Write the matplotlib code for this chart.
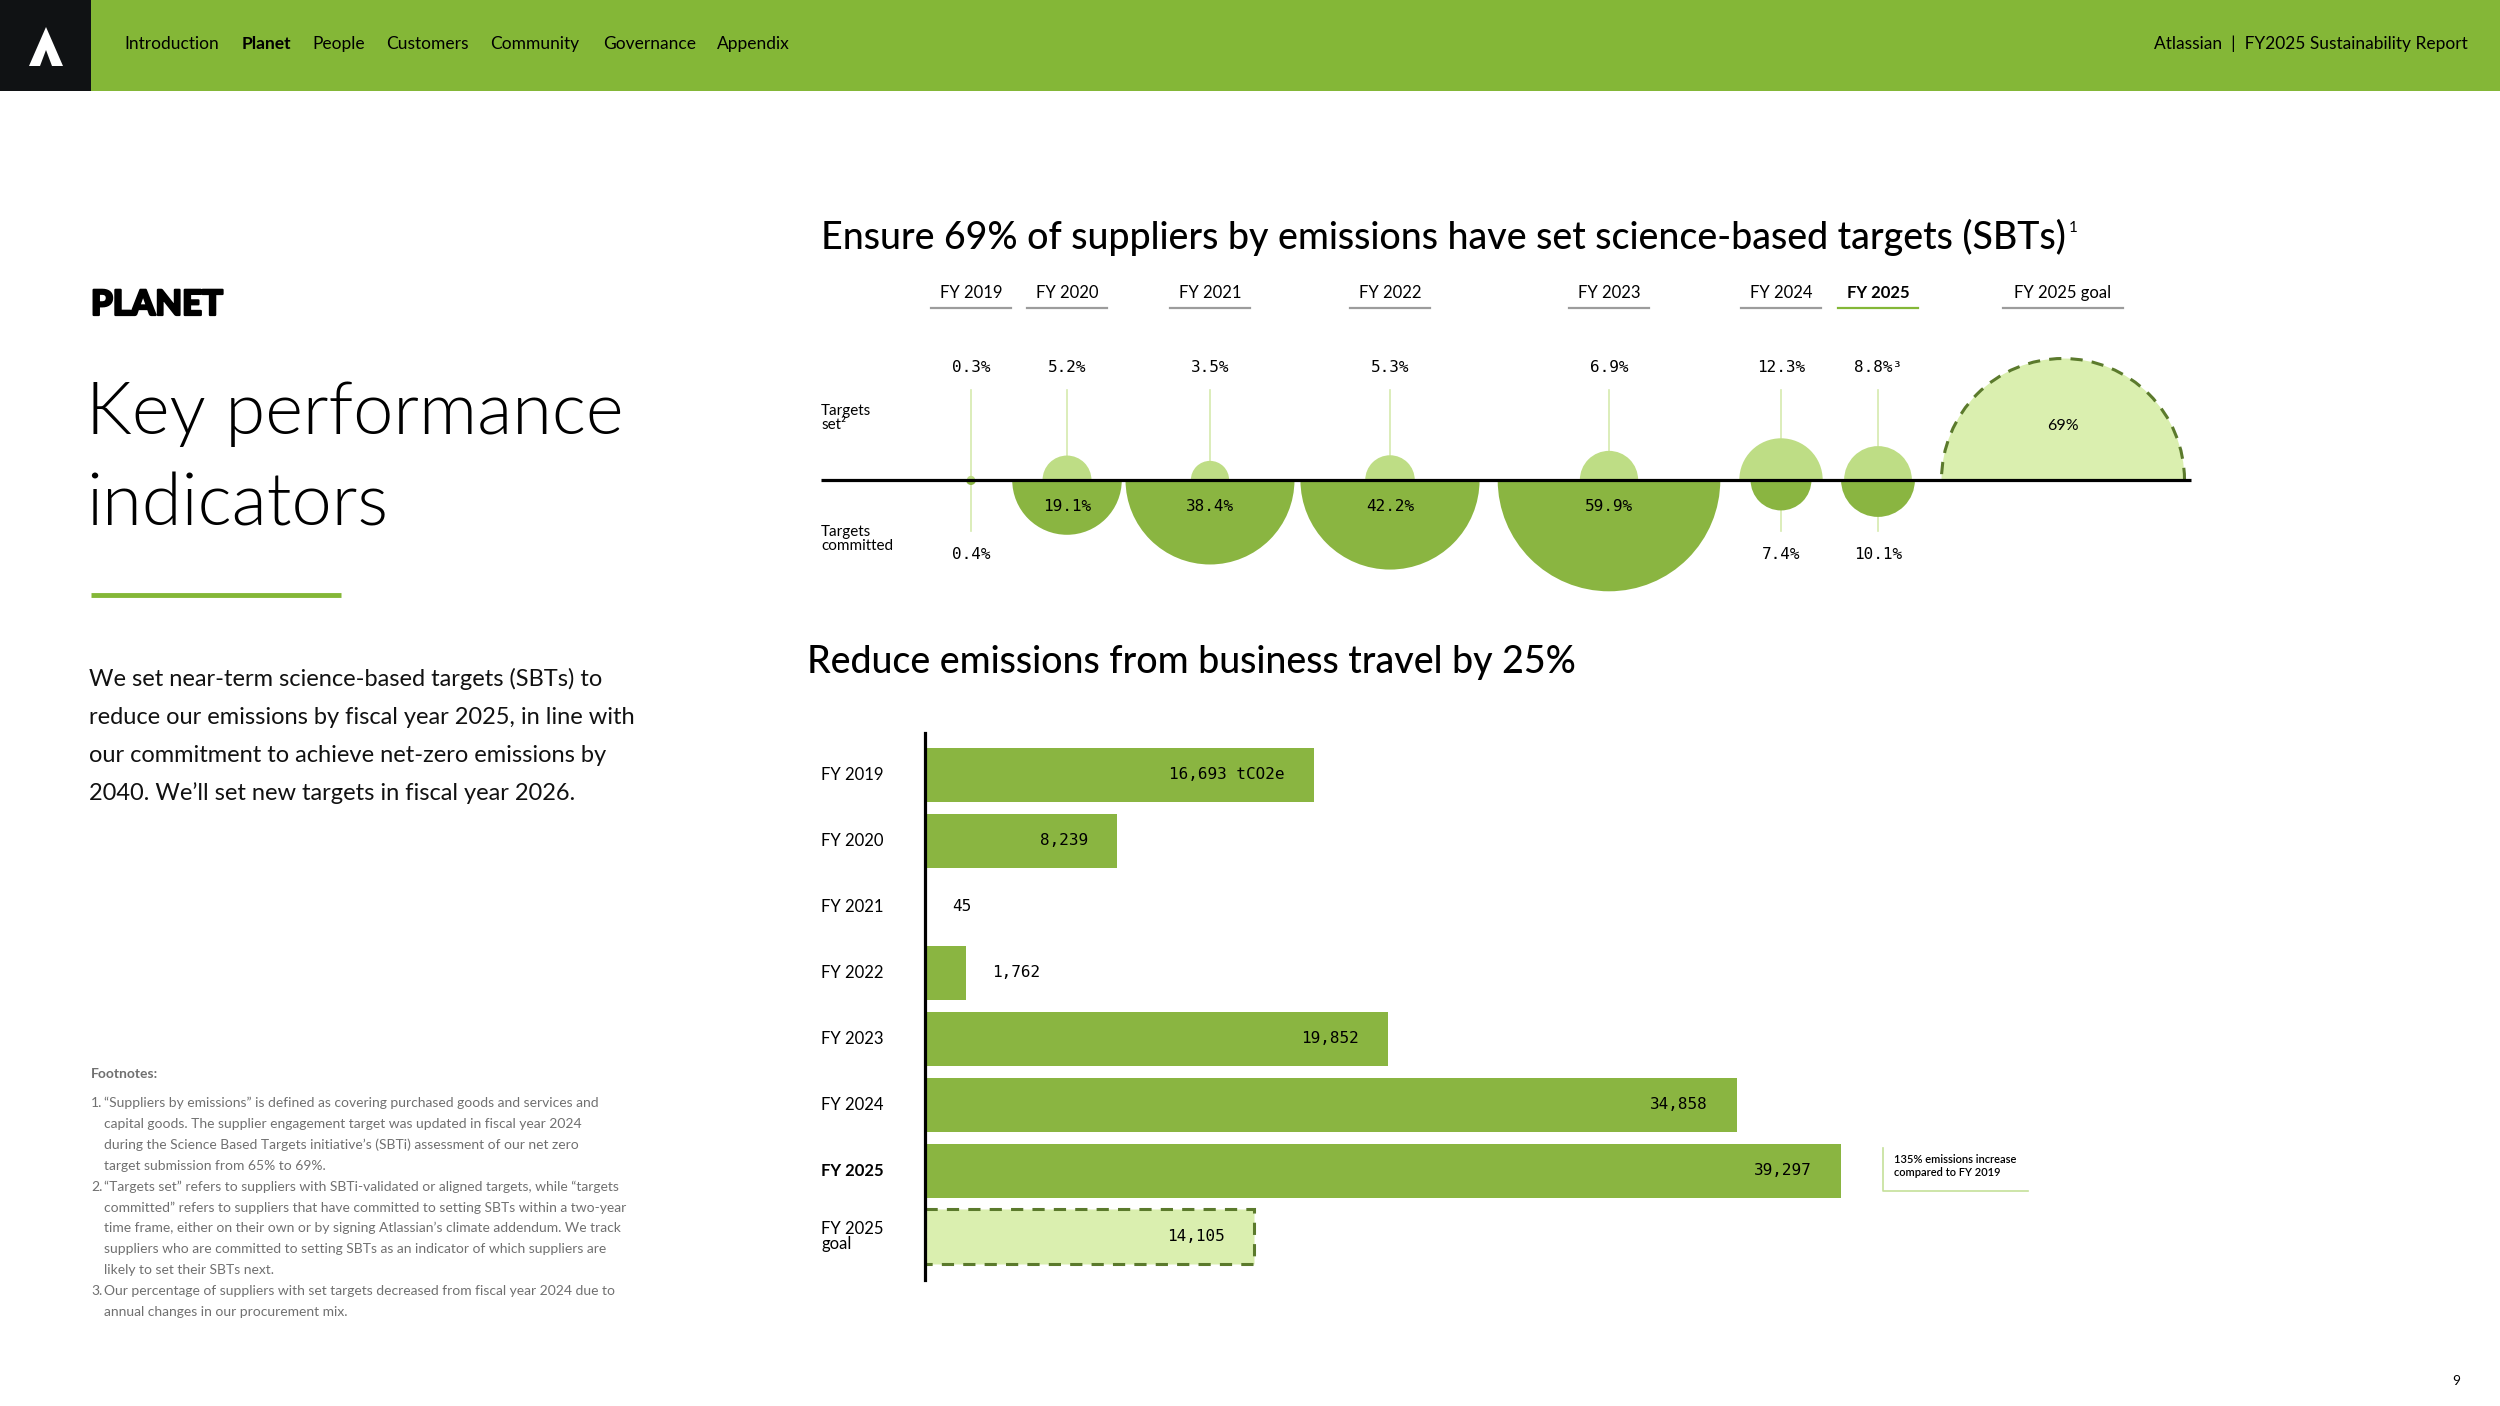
import matplotlib
matplotlib.use("Agg")
import matplotlib.pyplot as plt
from matplotlib.patches import Wedge, Arc, Rectangle, Polygon
import matplotlib.transforms as mtransforms
import matplotlib.patheffects as pe

# page size in pixels (dpi 100)
W, H = 2500, 1406

GREEN = "#84b737"
BAR = "#8ab541"
SET_C = "#bedd85"
GOAL_FILL = "#daefaf"
GOAL_EDGE = "#5b7a2c"
STEM = "#d5eaae"
GREY = "#9c9c9c"
FOOT = "#707070"

plt.rcParams["font.family"] = ["Lato", "DejaVu Sans"]
MONO = ["DejaVu Sans Mono"]

# --- data: suppliers with science-based targets (%)
sbt_years = ["FY 2019", "FY 2020", "FY 2021", "FY 2022", "FY 2023", "FY 2024", "FY 2025"]
targets_set = [0.3, 5.2, 3.5, 5.3, 6.9, 12.3, 8.8]
targets_committed = [0.4, 19.1, 38.4, 42.2, 59.9, 7.4, 10.1]
sbt_goal = 69
sbt_goal_label = "FY 2025 goal"

# --- data: business travel emissions (tCO2e)
travel_years = ["FY 2019", "FY 2020", "FY 2021", "FY 2022", "FY 2023",
                "FY 2024", "FY 2025", "FY 2025\ngoal"]
travel_tco2e = [16693, 8239, 45, 1762, 19852, 34858, 39297, 14105]

nav_items = ["Introduction", "Planet", "People", "Customers", "Community", "Governance", "Appendix"]

# layout (pixels)
slot_x = [971, 1067, 1210, 1390, 1609, 1781, 1878]
goal_x = 2063
nav_x = [124, 242, 312, 386, 490, 603, 717]


def radius(v):
    # size scale for the half circles (pixels)
    return 8.8 * v ** 0.62


def px_axes(x0, y0, x1, y1):
    a = fig.add_axes([x0 / W, 1 - y1 / H, (x1 - x0) / W, (y1 - y0) / H])
    a.set_facecolor("none")
    return a


fig = plt.figure(figsize=(25, 14.06), dpi=100)
page = fig.add_axes([0, 0, 1, 1])
page.set_xlim(0, W)
page.set_ylim(H, 0)
page.axis("off")

# header band
page.add_patch(Rectangle((0, 0), W, 91, color=GREEN, lw=0))
page.add_patch(Rectangle((0, 0), 91, 91, color="#101214", lw=0))
page.add_patch(Polygon([(29, 66), (46, 27), (63, 66), (52, 66), (46, 50), (40, 66)],
                       closed=True, color="white", lw=0))
for name, x in zip(nav_items, nav_x):
    page.text(x, 44, name, fontsize=12.5, va="center",
              fontweight="bold" if name == "Planet" else "normal")
page.text(2468, 44, "Atlassian  |  FY2025 Sustainability Report", fontsize=12.5,
          va="center", ha="right")

# left column
page.text(91, 305, "PLANET", fontsize=25, fontweight=900, va="center",
          path_effects=[pe.withStroke(linewidth=1.6, foreground="black")])
page.text(86, 434, "Key performance", fontsize=52, fontweight=300, va="baseline")
page.text(86, 525, "indicators", fontsize=52, fontweight=300, va="baseline")
page.plot([91, 341], [595, 595], color=GREEN, lw=3.5, solid_capstyle="butt")

para = ["We set near-term science-based targets (SBTs) to",
        "reduce our emissions by fiscal year 2025, in line with",
        "our commitment to achieve net-zero emissions by",
        "2040. We\u2019ll set new targets in fiscal year 2026."]
for i, line in enumerate(para):
    page.text(89, 686 + 38 * i, line, fontsize=17, va="baseline", color="#111111")

page.text(91, 1078, "Footnotes:", fontsize=10, fontweight="bold", color=FOOT, va="baseline")
notes = [
    ("1.", "\u201cSuppliers by emissions\u201d is defined as covering purchased goods and services and"),
    ("", "capital goods. The supplier engagement target was updated in fiscal year 2024"),
    ("", "during the Science Based Targets initiative\u2019s (SBTi) assessment of our net zero"),
    ("", "target submission from 65% to 69%."),
    ("2.", "\u201cTargets set\u201d refers to suppliers with SBTi-validated or aligned targets, while \u201ctargets"),
    ("", "committed\u201d refers to suppliers that have committed to setting SBTs within a two-year"),
    ("", "time frame, either on their own or by signing Atlassian\u2019s climate addendum. We track"),
    ("", "suppliers who are committed to setting SBTs as an indicator of which suppliers are"),
    ("", "likely to set their SBTs next."),
    ("3.", "Our percentage of suppliers with set targets decreased from fiscal year 2024 due to"),
    ("", "annual changes in our procurement mix."),
]
for i, (num, txt) in enumerate(notes):
    y = 1107 + 20.9 * i
    if num:
        page.text(91, y, num, fontsize=10, color=FOOT, va="baseline")
    page.text(104, y, txt, fontsize=10, color=FOOT, va="baseline")

# titles
t1 = page.text(821, 237, "Ensure 69% of suppliers by emissions have set science-based targets (SBTs)",
               fontsize=27, va="center", fontweight="medium")
page.text(807, 663, "Reduce emissions from business travel by 25%",
          fontsize=27, va="center", fontweight="medium")
page.text(2452, 1381, "9", fontsize=10, va="center")

# small superscript after the first title
bb = t1.get_window_extent(fig.canvas.get_renderer())
sx, sy = page.transData.inverted().transform((bb.x1, bb.y1))
page.text(sx + 3, sy + 3, "1", fontsize=11, va="top", ha="left")

# ---------------- half circle chart ----------------
ax1 = px_axes(815, 270, 2210, 620)
ax1.set_xlim(815, 2210)
ax1.set_ylim(480 - 620, 480 - 270)
ax1.axis("off")

for i, year in enumerate(sbt_years):
    x = slot_x[i]
    rs = radius(targets_set[i])
    rc = radius(targets_committed[i])
    ax1.add_patch(Wedge((x, 0), rs, 0, 180, fc=SET_C, ec="none", zorder=3))
    ax1.add_patch(Wedge((x, 0), rc, 180, 360, fc=BAR, ec="none", zorder=3))
    ax1.plot([x, x], [rs, 90], color=STEM, lw=1.2, zorder=2)
    lab = f"{targets_set[i]}%" + ("\u00b3" if year == "FY 2025" else "")
    ax1.text(x, 113, lab, family=MONO, fontsize=11.5, ha="center", va="center")
    if rc > 45:
        ax1.text(x, -27, f"{targets_committed[i]}%", family=MONO, fontsize=11.5,
                 ha="center", va="center", zorder=4)
    else:
        ax1.plot([x, x], [-rc, -51], color=STEM, lw=1.2, zorder=2)
        ax1.text(x, -75, f"{targets_committed[i]}%", family=MONO, fontsize=11.5,
                 ha="center", va="center")
    cur = year == "FY 2025"
    ax1.text(x, 187, year, fontsize=12, ha="center", va="center",
             fontweight="bold" if cur else "normal")
    ax1.plot([x - 40, x + 40], [172, 172], color=GREEN if cur else GREY, lw=1.6)

rg = radius(sbt_goal)
ax1.add_patch(Wedge((goal_x, 0), rg, 0, 180, fc=GOAL_FILL, ec="none", zorder=3))
ax1.add_patch(Arc((goal_x, 0), 2 * rg, 2 * rg, theta1=0, theta2=180, color=GOAL_EDGE,
                  lw=2.2, ls=(0, (4, 3)), zorder=4))
ax1.text(goal_x, 54, f"{sbt_goal}%", fontsize=11.5, ha="center", va="center", zorder=5)
ax1.text(goal_x, 187, sbt_goal_label, fontsize=12, ha="center", va="center")
ax1.plot([goal_x - 60, goal_x + 60], [172, 172], color=GREY, lw=1.6)

ax1.plot([821, 2191], [0, 0], color="black", lw=2.3, solid_capstyle="butt", zorder=6)
ax1.text(821, 62, "Targets\nset\u00b2", fontsize=11, ha="left", va="center", linespacing=1.05)
ax1.text(821, -59, "Targets\ncommitted", fontsize=11, ha="left", va="center", linespacing=1.05)

# ---------------- business travel bars ----------------
px_per_unit = 0.0233
ax2 = px_axes(925, 733, 2100, 1280)
ax2.set_xlim(0, 1175 / px_per_unit)
ax2.set_ylim(7.66, -0.637)
n = len(travel_years)
ax2.barh(range(n - 1), travel_tco2e[:-1], height=0.82, color=BAR, lw=0)
ax2.barh(n - 1, travel_tco2e[-1], height=0.82, color=GOAL_FILL, edgecolor=GOAL_EDGE,
         lw=2.2, linestyle=(0, (4, 3)))
for s in ["top", "right", "bottom"]:
    ax2.spines[s].set_visible(False)
ax2.spines["left"].set_linewidth(2.3)
ax2.set_xticks([])
ax2.set_yticks([])

trans = mtransforms.blended_transform_factory(ax2.transAxes, ax2.transData)
for i, (lab, v) in enumerate(zip(travel_years, travel_tco2e)):
    txt = f"{v:,}" + (" tCO2e" if i == 0 else "")
    if v > 5000:
        ax2.annotate(txt, (v, i), xytext=(-21, 0), textcoords="offset points",
                     ha="right", va="center", family=MONO, fontsize=11.5)
    else:
        ax2.annotate(txt, (v, i), xytext=(19, 0), textcoords="offset points",
                     ha="left", va="center", family=MONO, fontsize=11.5)
    ax2.text(-104 / 1175, i, lab, transform=trans, ha="left", va="center", fontsize=12,
             linespacing=0.95, fontweight="bold" if lab == "FY 2025" else "normal")

# callout
page.plot([1883, 1883, 2028], [1148, 1191, 1191], color="#c5e09a", lw=1.2)
page.text(1894, 1166, "135% emissions increase\ncompared to FY 2019", fontsize=8,
          fontweight="semibold", va="center", linespacing=1.15)

fig.savefig("out.png", dpi=100)
